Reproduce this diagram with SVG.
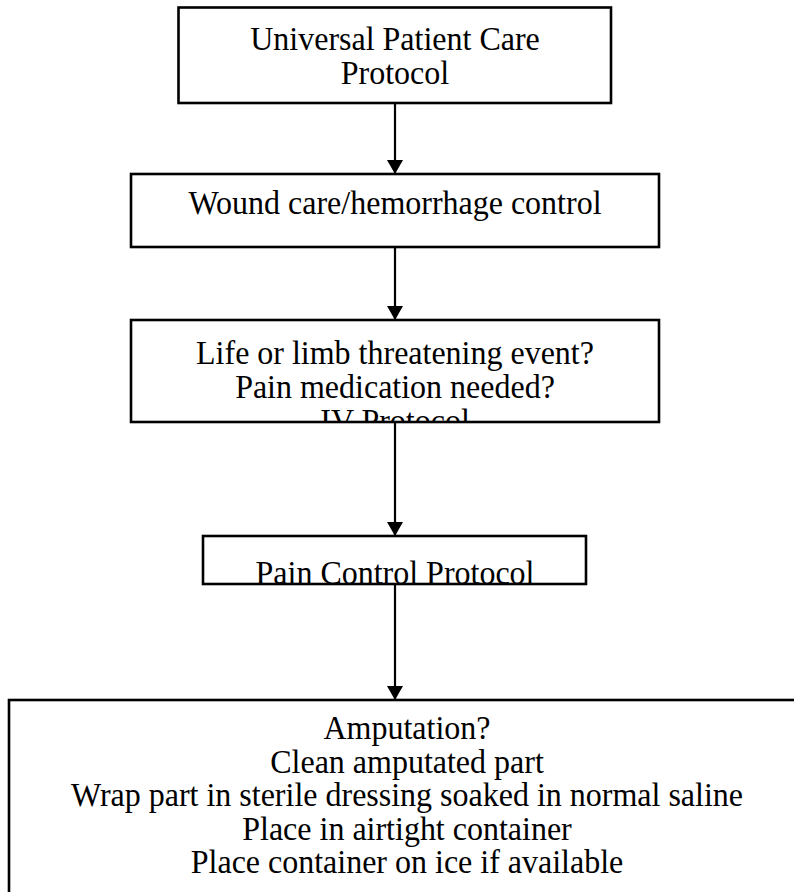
<svg xmlns="http://www.w3.org/2000/svg" width="794" height="892" viewBox="0 0 794 892">
  <style>
    .box { fill: #ffffff; stroke: #000000; stroke-width: 2.6; }
    .lbl { font-family: "Liberation Serif", "Times New Roman", serif; font-size: 32px; fill: #000000; text-anchor: middle; }
    .edge { stroke: #000000; stroke-width: 2.2; fill: none; marker-end: url(#arrow); }
  </style>
  <defs>
    <!-- filled triangular arrowhead, tip at the end of the line -->
    <marker id="arrow" viewBox="0 0 14 16" refX="14" refY="8" markerWidth="14" markerHeight="16" markerUnits="userSpaceOnUse" orient="auto">
      <path d="M0,0 L14,8 L0,16 Z" fill="#000000"/>
    </marker>
    <clipPath id="clip-n3"><rect x="131" y="320" width="528" height="102"/></clipPath>
    <clipPath id="clip-n4"><rect x="203" y="536" width="383" height="48"/></clipPath>
  </defs>

  <rect width="794" height="892" fill="#ffffff"/>

  <g id="connectors">
    <line class="edge" x1="395" y1="103" x2="395" y2="174"/>
    <line class="edge" x1="395" y1="247" x2="395" y2="320"/>
    <line class="edge" x1="395" y1="422" x2="395" y2="536"/>
    <line class="edge" x1="395" y1="584" x2="395" y2="700"/>
  </g>

  <g id="n1">
    <rect class="box" x="178.5" y="7.5" width="432.5" height="95.5"/>
    <text class="lbl" transform="translate(395 50) scale(1 1.03)">Universal Patient Care</text>
    <text class="lbl" transform="translate(395 83.5) scale(1 1.03)">Protocol</text>
  </g>

  <g id="n2">
    <rect class="box" x="131" y="174" width="528" height="73"/>
    <text class="lbl" transform="translate(395 214) scale(1 1.03)">Wound care/hemorrhage control</text>
  </g>

  <g id="n3">
    <rect class="box" x="131" y="320" width="528" height="102"/>
    <g clip-path="url(#clip-n3)">
      <text class="lbl" transform="translate(395 364) scale(1 1.03)">Life or limb threatening event?</text>
      <text class="lbl" transform="translate(395 397.5) scale(1 1.03)">Pain medication needed?</text>
      <text class="lbl" transform="translate(395 432) scale(1 1.03)">IV Protocol</text>
    </g>
  </g>

  <g id="n4">
    <rect class="box" x="203" y="536" width="383" height="48"/>
    <g clip-path="url(#clip-n4)">
      <text class="lbl" transform="translate(395 584) scale(1 1.03)">Pain Control Protocol</text>
    </g>
  </g>

  <g id="n5">
    <rect class="box" x="9" y="700" width="800" height="220"/>
    <text class="lbl" transform="translate(407 739) scale(1 1.03)">Amputation?</text>
    <text class="lbl" transform="translate(407 772.5) scale(1 1.03)">Clean amputated part</text>
    <text class="lbl" transform="translate(407 806) scale(1 1.03)">Wrap part in sterile dressing soaked in normal saline</text>
    <text class="lbl" transform="translate(407 839.5) scale(1 1.03)">Place in airtight container</text>
    <text class="lbl" transform="translate(407 873) scale(1 1.03)">Place container on ice if available</text>
  </g>
</svg>
